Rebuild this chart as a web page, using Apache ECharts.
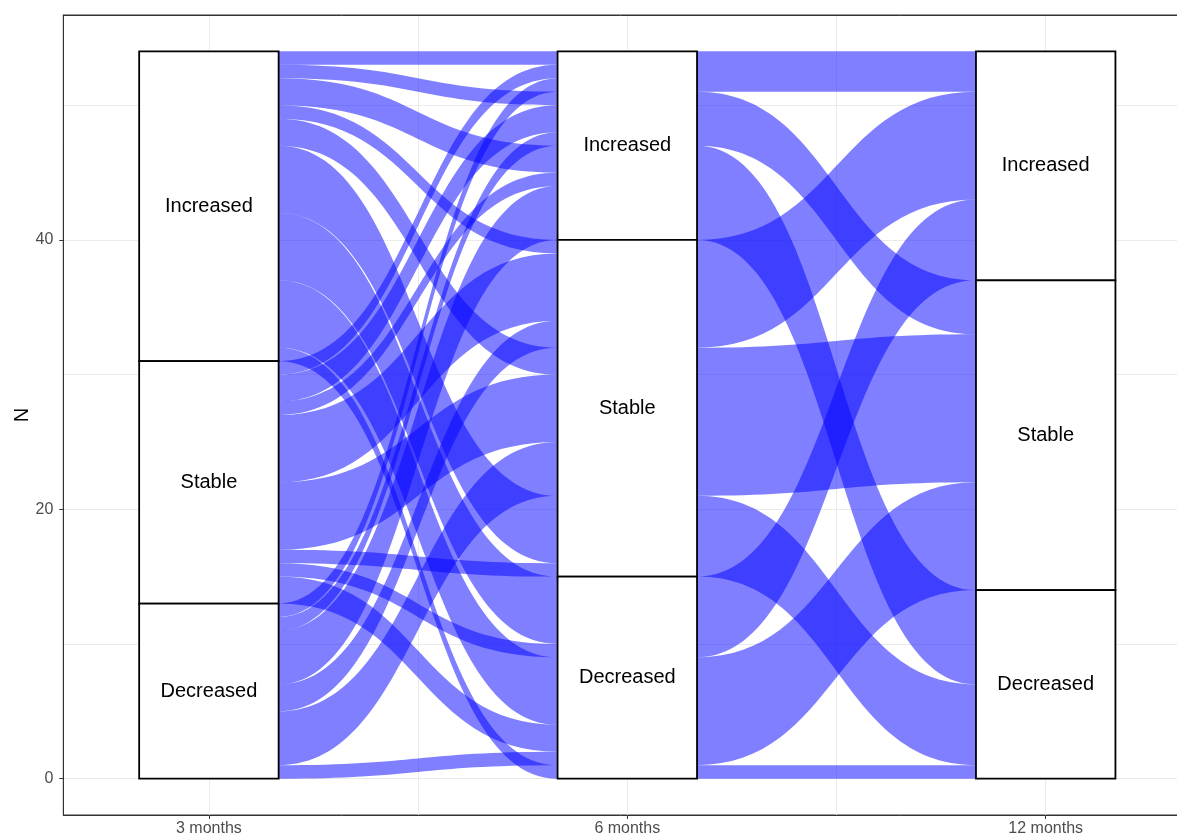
<!DOCTYPE html>
<html>
<head>
<meta charset="utf-8">
<script src="https://cdn.jsdelivr.net/npm/echarts@6/dist/echarts.min.js"></script>
<style>
  html, body { margin: 0; padding: 0; background: #ffffff; }
  #chart { width: 1177px; height: 837px; }
</style>
</head>
<body>
<div id="chart"></div>
<script>
// ---- data ----
const axisNames = ['3 months', '6 months', '12 months'];
const strataNames = ['Increased', 'Stable', 'Decreased']; // stacked top -> bottom
// one entry per trajectory (stratum index at each time point) and its number of patients
const stage3  = [0,0,0,0,0,0,0,0,0, 1,1,1,1,1,1,1,1, 2,2,2,2,2,2];
const stage6  = [0,0,0,1,1,1,2,2,2, 0,0,0,1,1,1,2,2, 0,0,0,1,1,2];
const stage12 = [0,1,2,0,1,2,0,1,2, 0,1,2,0,1,2,0,1, 0,1,2,0,1,1];
const counts  = [1,1,2,1,2,5,5,5,1, 1,2,1,5,5,1,1,2, 1,1,4,2,4,1];
const yTickLabels = [0, 20, 40];

// ---- layout of lodes (ggalluvial-like zigzag ordering) ----
const stages = [stage3, stage6, stage12];
const orderKeys = [[0, 1, 2], [1, 2, 0], [2, 1, 0]];
const total = counts.reduce((a, b) => a + b, 0);
const n = counts.length;
const lodes = counts.map(() => [null, null, null]);
for (let k = 0; k < 3; k++) {
  const idx = counts.map((_, i) => i);
  idx.sort((a, b) => {
    for (const key of orderKeys[k]) {
      const d = stages[key][a] - stages[key][b];
      if (d !== 0) return d;
    }
    return a - b;
  });
  let top = total;
  for (const i of idx) {
    lodes[i][k] = [top, top - counts[i]];
    top -= counts[i];
  }
}
// flow bands between neighbouring time points; alluvia that stay adjacent at both ends form one band
const bands = [];
for (let k = 0; k < 2; k++) {
  const idx = counts.map((_, i) => i).sort((a, b) => lodes[b][k][0] - lodes[a][k][0]);
  let cur = null;
  for (const i of idx) {
    const a = lodes[i][k], b = lodes[i][k + 1];
    if (cur && Math.abs(cur[2] - a[0]) < 1e-9 && Math.abs(cur[4] - b[0]) < 1e-9) {
      cur[2] = a[1]; cur[4] = b[1];
    } else {
      cur = [k + 1, a[0], a[1], b[0], b[1]];
      bands.push(cur);
    }
  }
}
const strataBoxes = [];
for (let k = 0; k < 3; k++) {
  let top = total;
  for (let s = 0; s < strataNames.length; s++) {
    let sum = 0;
    for (let i = 0; i < n; i++) if (stages[k][i] === s) sum += counts[i];
    strataBoxes.push([k + 1, top - sum / 2, top, top - sum, s]);
    top -= sum;
  }
}
const halfW = 1 / 6;

function curve(a, b) {
  const mx = (a[0] + b[0]) / 2;
  return ' C' + mx + ',' + a[1] + ' ' + mx + ',' + b[1] + ' ' + b[0] + ',' + b[1];
}
function renderFlow(params, api) {
  const x = api.value(0);
  const tA = api.coord([x + halfW, api.value(1)]);
  const bA = api.coord([x + halfW, api.value(2)]);
  const tB = api.coord([x + 1 - halfW, api.value(3)]);
  const bB = api.coord([x + 1 - halfW, api.value(4)]);
  let d = 'M' + tA[0] + ',' + tA[1];
  d += curve(tA, tB);
  d += ' L' + bB[0] + ',' + bB[1];
  d += curve(bB, bA);
  d += ' Z';
  return {
    type: 'path',
    shape: { pathData: d },
    style: { fill: 'rgba(0,0,255,0.5)', stroke: null }
  };
}
function renderStratum(params, api) {
  const x = api.value(0), top = api.value(2), bot = api.value(3);
  const p1 = api.coord([x - halfW, top]);
  const p2 = api.coord([x + halfW, bot]);
  const c = api.coord([x, api.value(1)]);
  return {
    type: 'group',
    children: [
      { type: 'rect', shape: { x: p1[0], y: p1[1], width: p2[0] - p1[0], height: p2[1] - p1[1] },
        style: { fill: '#ffffff', stroke: '#000000', lineWidth: 1.8 } },
      { type: 'text', x: c[0], y: c[1],
        style: { text: strataNames[api.value(4)], fill: '#000000', fontSize: 20,
                 fontFamily: 'Liberation Sans, Arial, sans-serif', align: 'center', verticalAlign: 'middle' } }
    ]
  };
}

const chart = echarts.init(document.getElementById('chart'), null, { renderer: 'canvas' });
const font = 'Liberation Sans, Arial, sans-serif';
const gridLine = { show: true, lineStyle: { color: '#EBEBEB', width: 1 } };
const border = { show: true, onZero: false, lineStyle: { color: '#333333', width: 1 } };
chart.setOption({
  backgroundColor: '#ffffff',
  animation: false,
  grid: { left: 63.3, top: 15, width: 1128, height: 800, containLabel: false, outerBoundsMode: 'none',
          show: true, borderColor: '#333333', borderWidth: 1, backgroundColor: '#ffffff' },
  xAxis: [
    { type: 'value', min: 0.652, max: 3.348, axisLine: { show: false, onZero: false }, axisTick: { show: false },
      axisLabel: { show: false }, splitLine: gridLine },
    { type: 'value', min: 0.652, max: 3.348, position: 'bottom', offset: 0,
      axisLine: border, splitLine: { show: false },
      axisTick: { show: true, length: 4, lineStyle: { color: '#333333', width: 1 }, customValues: [1, 2, 3] },
      axisLabel: { show: true, customValues: [1, 2, 3], margin: 6, color: '#4D4D4D', fontSize: 16, fontFamily: font,
        formatter: v => (Math.abs(v - Math.round(v)) < 1e-9 && v >= 1 && v <= 3) ? axisNames[Math.round(v) - 1] : '' } },
    { type: 'value', min: 0.652, max: 3.348, position: 'top', offset: 0,
      axisLine: border, splitLine: { show: false }, axisTick: { show: false }, axisLabel: { show: false } }
  ],
  yAxis: [
    { type: 'value', min: -2.7, max: 56.7, axisLine: { show: false, onZero: false }, axisTick: { show: false },
      axisLabel: { show: false }, splitLine: gridLine,
      name: 'N', nameLocation: 'middle', nameGap: 31, nameRotate: 90, nameMoveOverlap: false,
      nameTextStyle: { color: '#000000', fontSize: 20, fontFamily: font } },
    { type: 'value', min: -2.7, max: 56.7, position: 'left', offset: 0,
      axisLine: border, splitLine: { show: false },
      axisTick: { show: true, length: 4, lineStyle: { color: '#333333', width: 1 }, customValues: yTickLabels },
      axisLabel: { show: true, customValues: yTickLabels, margin: 10, color: '#4D4D4D', fontSize: 16, fontFamily: font,
        formatter: v => (yTickLabels.indexOf(v) >= 0 ? String(v) : '') } }
  ],
  series: [
    { type: 'custom', xAxisIndex: 0, yAxisIndex: 0, renderItem: renderFlow, z: 2,
      data: bands, silent: true },
    { type: 'custom', xAxisIndex: 0, yAxisIndex: 0, renderItem: renderStratum, z: 3,
      data: strataBoxes, silent: true }
  ]
});
</script>
</body>
</html>
